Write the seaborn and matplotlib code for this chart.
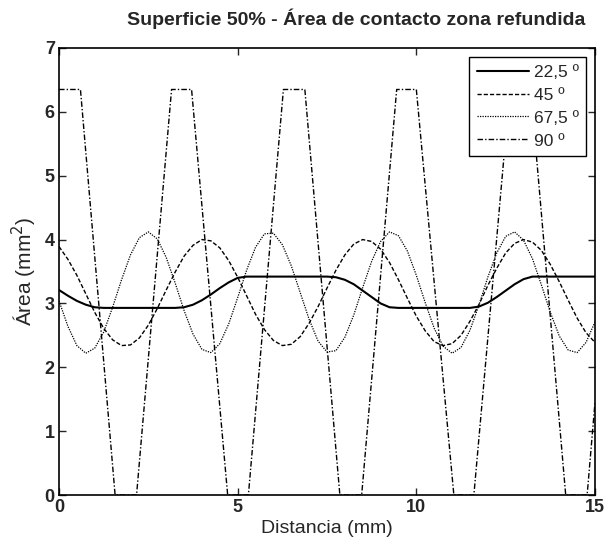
import numpy as np
import pandas as pd
import matplotlib
matplotlib.use("Agg")
import matplotlib.pyplot as plt
import seaborn as sns

sns.set_style("ticks")
plt.rcParams['font.family'] = ['Liberation Sans', 'DejaVu Sans']

# ===================== data =====================
X_GRID = [i * 0.25 for i in range(61)]

AREA_22_5 = [3.21, 3.12, 3.04, 2.98, 2.94, 2.93, 2.93, 2.93, 2.93, 2.93,
             2.93, 2.93, 2.93, 2.93, 2.94, 2.98, 3.05, 3.14, 3.24, 3.33,
             3.40, 3.42, 3.42, 3.42, 3.42, 3.42, 3.42, 3.42, 3.42, 3.42,
             3.42, 3.41, 3.37, 3.30, 3.20, 3.10, 3.00, 2.94, 2.93, 2.93,
             2.93, 2.93, 2.93, 2.93, 2.93, 2.93, 2.93, 2.95, 3.01, 3.10,
             3.20, 3.30, 3.38, 3.42, 3.42, 3.42, 3.42, 3.42, 3.42, 3.42,
             3.42]

AREA_45 = [3.89, 3.69, 3.44, 3.15, 2.86, 2.61, 2.43, 2.34, 2.35, 2.46,
           2.66, 2.92, 3.21, 3.49, 3.74, 3.91, 4.00, 3.98, 3.87, 3.67,
           3.41, 3.12, 2.83, 2.59, 2.42, 2.34, 2.36, 2.48, 2.69, 2.95,
           3.24, 3.52, 3.76, 3.93, 4.00, 3.97, 3.85, 3.64, 3.37, 3.08,
           2.80, 2.57, 2.40, 2.34, 2.37, 2.50, 2.72, 2.98, 3.28, 3.55,
           3.79, 3.94, 4.00, 3.96, 3.83, 3.61, 3.34, 3.05, 2.77, 2.54,
           2.39]

AREA_67_5 = [3.04, 2.64, 2.34, 2.22, 2.30, 2.55, 2.94, 3.37, 3.76, 4.03,
             4.12, 4.01, 3.72, 3.32, 2.89, 2.52, 2.28, 2.23, 2.37, 2.68,
             3.09, 3.52, 3.88, 4.09, 4.10, 3.92, 3.59, 3.17, 2.75, 2.41,
             2.24, 2.26, 2.47, 2.82, 3.25, 3.66, 3.97, 4.12, 4.06, 3.82,
             3.44, 3.01, 2.61, 2.33, 2.22, 2.31, 2.58, 2.97, 3.41, 3.79,
             4.05, 4.12, 3.99, 3.70, 3.29, 2.86, 2.49, 2.27, 2.23, 2.39,
             2.71]

X_90 = [0.0, 0.60, 1.57, 2.17, 3.15, 3.71, 4.72, 5.30, 6.28, 6.88,
        7.86, 8.47, 9.45, 10.00, 11.05, 11.61, 12.62, 13.20, 14.18, 14.78,
        15.0]
AREA_90 = [6.35, 6.35, 0.0, 0.0, 6.35, 6.35, 0.0, 0.0, 6.35, 6.35,
           0.0, 0.0, 6.35, 6.35, 0.0, 0.0, 6.35, 6.35, 0.0, 0.0,
           1.45]

SERIES_LABELS = ['22,5 º', '45 º', '67,5 º', '90 º']

df = pd.concat([
    pd.DataFrame({'x': X_GRID, 'area': AREA_22_5, 'serie': SERIES_LABELS[0]}),
    pd.DataFrame({'x': X_GRID, 'area': AREA_45, 'serie': SERIES_LABELS[1]}),
    pd.DataFrame({'x': X_GRID, 'area': AREA_67_5, 'serie': SERIES_LABELS[2]}),
    pd.DataFrame({'x': X_90, 'area': AREA_90, 'serie': SERIES_LABELS[3]}),
], ignore_index=True)

# ===================== plot =====================
fig = plt.figure(figsize=(6.04, 5.39), dpi=100)
ax = fig.add_axes([0.0977, 0.0816, 0.8874, 0.8294])

styles = {
    SERIES_LABELS[0]: dict(ls='-', lw=1.5),
    SERIES_LABELS[1]: dict(ls=(0, (3, 1.5)), lw=1.0),
    SERIES_LABELS[2]: dict(ls=(0, (1, 1)), lw=0.9),
    SERIES_LABELS[3]: dict(ls=(0, (4, 1.5, 1, 1.5)), lw=1.0),
}

for lab in SERIES_LABELS:
    sub = df[df['serie'] == lab]
    sns.lineplot(data=sub, x='x', y='area', ax=ax, color='black',
                 label=lab, linestyle=styles[lab]['ls'],
                 linewidth=styles[lab]['lw'], estimator=None, sort=False)

ax.set_xlim(0, 15)
ax.set_ylim(0, 7)
ax.set_xticks([0, 5, 10, 15])
ax.set_yticks(range(8))
ax.tick_params(direction='in', length=5, width=1, top=True, right=True,
               labelsize=13, pad=3)
for t in ax.get_xticklabels() + ax.get_yticklabels():
    t.set_fontweight('bold')
for s in ax.spines.values():
    s.set_visible(True)
    s.set_linewidth(1.2)
    s.set_color('black')

ax.set_xlabel('Distancia (mm)', fontsize=14, labelpad=3)
ax.set_ylabel('Área (mm$^2$)', fontsize=15, labelpad=4)
fig.text(0.59, 0.965, 'Superficie 50% - Área de contacto zona refundida',
         ha='center', va='center', fontsize=14, fontweight='bold')

leg = ax.legend(loc='upper right', fontsize=12.5, frameon=True, fancybox=False,
                framealpha=1, edgecolor='black', handlelength=3.0,
                handletextpad=0.25, borderaxespad=0.5, labelspacing=0.45,
                borderpad=0.45)
leg.get_frame().set_linewidth(1.0)

plt.savefig('out.png', dpi=100)
